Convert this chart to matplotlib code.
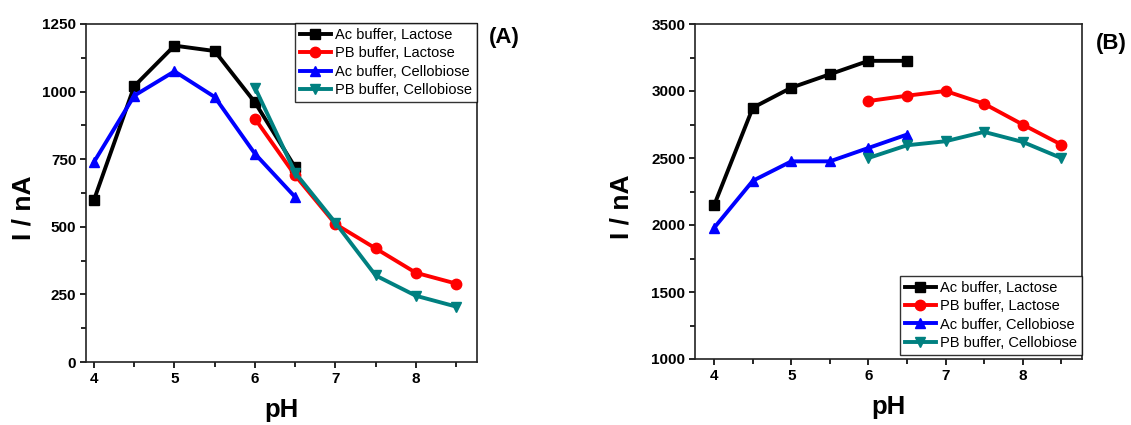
import matplotlib
matplotlib.use("Agg")
import matplotlib.pyplot as plt
from matplotlib.ticker import MultipleLocator

plt.rcParams['font.family'] = ['Liberation Sans', 'DejaVu Sans']

ph_ac = [4, 4.5, 5, 5.5, 6, 6.5]
ph_pb = [6, 6.5, 7, 7.5, 8, 8.5]
series_names = ['Ac buffer, Lactose', 'PB buffer, Lactose', 'Ac buffer, Cellobiose', 'PB buffer, Cellobiose']

# panel A
a_ac_lac = [600, 1020, 1170, 1150, 960, 720]
a_pb_lac = [900, 690, 510, 420, 330, 290]
a_ac_cel = [740, 985, 1075, 980, 770, 610]
a_pb_cel = [1015, 700, 515, 320, 245, 205]

# panel B
b_ac_lac = [2150, 2875, 3025, 3125, 3225, 3225]
b_pb_lac = [2925, 2965, 3000, 2905, 2750, 2600]
b_ac_cel = [1980, 2330, 2475, 2475, 2575, 2675]
b_pb_cel = [2500, 2595, 2625, 2695, 2620, 2500]

colors = ['black', 'red', 'blue', '#008080']
markers = ['s', 'o', '^', 'v']

fig = plt.figure(figsize=(11.31, 4.25), dpi=100)
W, H = 1131, 425
axA = fig.add_axes([86 / W, 1 - 362 / H, 391 / W, 338 / H])
axB = fig.add_axes([695 / W, 1 - 359 / H, 387 / W, 335 / H])


def draw(ax, data, ylim, ymajor, xlim, legloc, legy, ylab_xy, label, labxy):
    xs = [ph_ac, ph_pb, ph_ac, ph_pb]
    for x, y, c, m, n in zip(xs, data, colors, markers, series_names):
        ax.plot(x, y, color=c, marker=m, lw=2.8, ms=7.5, label=n)
    ax.set_xlim(*xlim)
    ax.set_ylim(*ylim)
    ax.xaxis.set_major_locator(MultipleLocator(1))
    ax.xaxis.set_minor_locator(MultipleLocator(0.5))
    ax.yaxis.set_major_locator(MultipleLocator(ymajor))
    ax.yaxis.set_minor_locator(MultipleLocator(ymajor / 2))
    ax.tick_params(which='both', direction='out', top=False, right=False, width=1.2)
    ax.tick_params(which='major', length=4, labelsize=11, pad=3)
    ax.tick_params(which='minor', length=3.5)
    for t in ax.get_xticklabels() + ax.get_yticklabels():
        t.set_fontweight('bold')
    for s in ax.spines.values():
        s.set_linewidth(1.2)
        s.set_color('#222222')
    ax.set_xlabel('pH', fontsize=18.5, fontweight='bold', labelpad=9)
    ax.set_ylabel('I / nA', fontsize=19, fontweight='bold')
    ax.yaxis.set_label_coords(*ylab_xy)
    leg = ax.legend(loc=legloc, bbox_to_anchor=(1.0, legy), fontsize=10.5, frameon=True,
                    fancybox=False, edgecolor='black', borderpad=0.35, labelspacing=0.3,
                    handlelength=2.1, handletextpad=0.3, borderaxespad=0.0)
    leg.get_frame().set_linewidth(1.0)
    fig.text(labxy[0] / W, 1 - labxy[1] / H, label, fontsize=16, fontweight='bold',
             ha='left', va='center')


draw(axA, [a_ac_lac, a_pb_lac, a_ac_cel, a_pb_cel], (0, 1250), 250, (3.9, 8.76),
     'upper right', 1.003, (-0.13, 0.456), '(A)', (489, 38))
draw(axB, [b_ac_lac, b_pb_lac, b_ac_cel, b_pb_cel], (1000, 3500), 500, (3.75, 8.77),
     'lower right', 0.012, (-0.158, 0.454), '(B)', (1096, 44))

fig.savefig('out.png', dpi=100)
